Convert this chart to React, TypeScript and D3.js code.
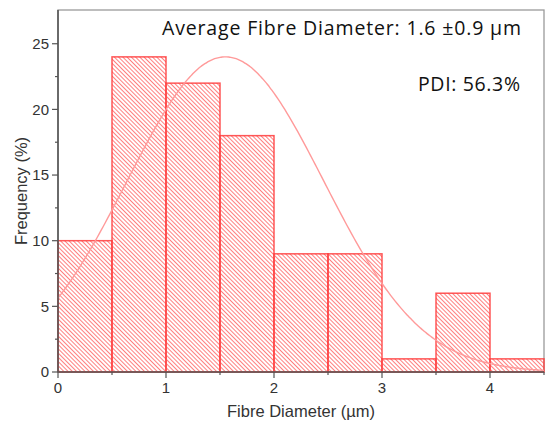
import React from 'react';
import * as d3 from 'd3';

// histogram bins (µm) and frequency (%)
const binStarts = [0, 0.5, 1, 1.5, 2, 2.5, 3, 3.5, 4];
const frequencies = [10, 24, 22, 18, 9, 9, 1, 6, 1];
const binWidth = 0.5;

// fitted normal curve
const fitMean = 1.55;
const fitSd = 0.91;
const fitPeak = 24;

const xTicks = [0, 1, 2, 3, 4];
const yTicks = [0, 5, 10, 15, 20, 25];

const width = 547;
const height = 428;
const margin = { top: 10, right: 3, bottom: 56, left: 58 };

export default function App() {
  const x = d3.scaleLinear()
    .domain([0, 4.5])
    .range([margin.left, width - margin.right]);

  const y = d3.scaleLinear()
    .domain([0, 27.57])
    .range([height - margin.bottom, margin.top]);

  const curvePts = d3.range(0, 4.5001, 0.02).map(v => [
    v,
    fitPeak * Math.exp(-((v - fitMean) ** 2) / (2 * fitSd * fitSd)),
  ]);
  const line = d3.line<number[]>()
    .x(d => x(d[0]))
    .y(d => y(d[1]))
    .curve(d3.curveBasis);

  const x0 = x(0), x1 = x(4.5), y0 = y(0), yTop = margin.top;
  const tickColor = '#555';
  const labelFont = '"Liberation Sans", Arial, sans-serif';

  return (
    <svg width={width} height={height} style={{ position: 'absolute', left: 0, top: 0 }}>
      <defs>
        <pattern id="hatch" patternUnits="userSpaceOnUse" width="3" height="3"
          patternTransform="rotate(-45)">
          <line x1="1.5" y1="0" x2="1.5" y2="3" stroke="#ff7070" strokeWidth="0.9" />
        </pattern>
      </defs>
      <rect width={width} height={height} fill="#fff" />

      {/* frame */}
      <rect x={x0} y={yTop} width={x1 - x0} height={y0 - yTop} fill="none" stroke="#9a9a9a" strokeWidth={1.3} />

      {/* bars */}
      {binStarts.map((s, i) => (
        <rect key={i}
          x={x(s)} y={y(frequencies[i])}
          width={x(s + binWidth) - x(s)} height={y0 - y(frequencies[i])}
          fill="url(#hatch)" stroke="#ff3b3b" strokeOpacity={0.85} strokeWidth={1.5} />
      ))}

      {/* fitted curve */}
      <path d={line(curvePts) || ''} fill="none" stroke="#ff9a9a" strokeWidth={1.4} />

      {/* axes */}
      <line x1={x0} x2={x0} y1={yTop} y2={y0} stroke={tickColor} strokeWidth={1.6} />
      <line x1={x0} x2={x1} y1={y0} y2={y0} stroke={tickColor} strokeWidth={1.6} />

      {d3.range(0, 27.5, 2.5).map(v => (
        <line key={'yt' + v} x1={x0} x2={x0 - (v % 5 === 0 ? 6 : 3)} y1={y(v)} y2={y(v)} stroke={tickColor} strokeWidth={1.2} />
      ))}
      {d3.range(0, 4.51, 0.5).map(v => (
        <line key={'xt' + v} x1={x(v)} x2={x(v)} y1={y0} y2={y0 + (v % 1 === 0 ? 6 : 3)} stroke={tickColor} strokeWidth={1.2} />
      ))}

      {yTicks.map(v => (
        <text key={'yl' + v} x={x0 - 9} y={y(v)} dy="0.36em" textAnchor="end"
          fontFamily={labelFont} fontSize={15} fill="#333">{v}</text>
      ))}
      {xTicks.map(v => (
        <text key={'xl' + v} x={x(v)} y={393} textAnchor="middle"
          fontFamily={labelFont} fontSize={15} fill="#333">{v}</text>
      ))}

      <text x={(x0 + x1) / 2} y={417} textAnchor="middle" fontFamily={labelFont} fontSize={16.5} fill="#333">
        Fibre Diameter (µm)
      </text>
      <text transform={`translate(26.5, ${(yTop + y0) / 2}) rotate(-90)`} textAnchor="middle"
        fontFamily={labelFont} fontSize={16.5} fill="#333">
        Frequency (%)
      </text>

      {/* annotations */}
      <text x={162} y={35} textLength={359} lengthAdjust="spacing"
        fontFamily='"Open Sans", sans-serif' fontSize={19.5} fill="#111">
        Average Fibre Diameter: 1.6 ±0.9 µm
      </text>
      <text x={418} y={90.5} textLength={102} lengthAdjust="spacing"
        fontFamily='"Open Sans", sans-serif' fontSize={19.5} fill="#111">
        PDI: 56.3%
      </text>
    </svg>
  );
}
